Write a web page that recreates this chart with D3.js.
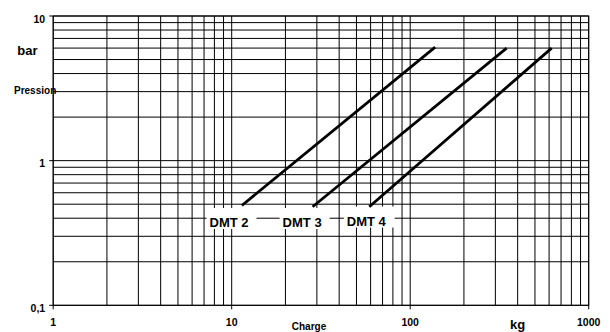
<!DOCTYPE html>
<html>
<head>
<meta charset="utf-8">
<script src="https://cdn.jsdelivr.net/npm/d3@7"></script>
<style>
  body { margin: 0; background: #fff; }
  svg { display: block; }
  svg text { font-family: "Liberation Sans", Arial, sans-serif; font-weight: bold; }
</style>
</head>
<body>
<div id="chart"></div>
<script>
// Axis ticks (log scales)
const xTicks = [1, 10, 100, 1000];
const xTickLabels = ["1", "10", "100", "1000"];
const yTicks = [0.1, 1, 10];
const yTickLabels = ["0,1", "1", "10"];

// Curves: [start, end] (charge kg, pression bar)
const seriesNames = ["DMT 2", "DMT 3", "DMT 4"];
const dmt2Charge = [11.4, 138];
const dmt2Pression = [0.49, 6.1];
const dmt3Charge = [28.4, 347];
const dmt3Pression = [0.48, 6.0];
const dmt4Charge = [59, 620];
const dmt4Pression = [0.48, 6.0];

// Label anchors (data units, text centre / baseline)
const labelCharge = [9.66, 24.8, 56.8];
const labelPression = [0.348, 0.348, 0.356];

const width = 610, height = 332;
const plotLeft = 53.2, plotRight = 588.7, plotTop = 16, plotBottom = 305.3;

const svg = d3.select("#chart").append("svg")
    .attr("width", width)
    .attr("height", height);

const x = d3.scaleLog().domain([1, 1000]).range([plotLeft, plotRight]);
const y = d3.scaleLog().domain([0.1, 10]).range([plotBottom, plotTop]);

// Grid
const grid = svg.append("g").attr("stroke", "#000").attr("stroke-width", 1);
grid.selectAll(".vx")
    .data(x.ticks())
    .join("line")
    .attr("class", "vx")
    .attr("x1", d => x(d)).attr("x2", d => x(d))
    .attr("y1", plotTop).attr("y2", plotBottom);
grid.selectAll(".hy")
    .data(y.ticks())
    .join("line")
    .attr("class", "hy")
    .attr("x1", plotLeft).attr("x2", plotRight)
    .attr("y1", d => y(d)).attr("y2", d => y(d));

// Frame
svg.append("rect")
    .attr("x", plotLeft).attr("y", plotTop)
    .attr("width", plotRight - plotLeft).attr("height", plotBottom - plotTop)
    .attr("fill", "none").attr("stroke", "#000");

// Axis ticks + labels
svg.append("g")
    .attr("transform", `translate(0,${plotBottom})`)
    .call(d3.axisBottom(x).tickValues(xTicks).tickSize(4).tickPadding(9)
        .tickFormat((d, i) => xTickLabels[i]).offset(0))
    .call(g => g.select(".domain").remove())
    .call(g => g.selectAll("text").attr("font-size", 10.5).attr("fill", "#000"));

svg.append("g")
    .attr("transform", `translate(${plotLeft},0)`)
    .call(d3.axisLeft(y).tickValues(yTicks).tickSize(4).tickPadding(4)
        .tickFormat((d, i) => yTickLabels[i]).offset(0))
    .call(g => g.select(".domain").remove())
    .call(g => g.selectAll("text").attr("font-size", 10.5)
        .attr("fill", "#000").attr("dy", "0.62em"));

// Axis titles
svg.append("text").attr("x", 17.3).attr("y", 55).attr("font-size", 13).text("bar");
svg.append("text").attr("x", 14).attr("y", 94).attr("font-size", 10).text("Pression");
svg.append("text").attr("x", 309).attr("y", 330).attr("font-size", 10)
    .attr("text-anchor", "middle").text("Charge");
svg.append("text").attr("x", 517.5).attr("y", 329).attr("font-size", 13)
    .attr("text-anchor", "middle").text("kg");

// Labels with white boxes cutting the grid
const labels = svg.append("g");
seriesNames.forEach((name, i) => {
    const g = labels.append("g");
    const t = g.append("text")
        .attr("x", x(labelCharge[i]))
        .attr("y", y(labelPression[i]))
        .attr("text-anchor", "middle")
        .attr("font-size", 13)
        .text(name);
    const bb = t.node().getBBox();
    g.insert("rect", "text")
        .attr("x", bb.x - 3).attr("y", bb.y - 7)
        .attr("width", bb.width + 11).attr("height", bb.height + 6)
        .attr("fill", "#fff");
});

// Curves
const curves = [
    dmt2Charge.map((c, i) => [c, dmt2Pression[i]]),
    dmt3Charge.map((c, i) => [c, dmt3Pression[i]]),
    dmt4Charge.map((c, i) => [c, dmt4Pression[i]])
];
const line = d3.line().x(d => x(d[0])).y(d => y(d[1]));
svg.append("g").selectAll("path")
    .data(curves)
    .join("path")
    .attr("d", line)
    .attr("fill", "none")
    .attr("stroke", "#000")
    .attr("stroke-width", 2.8);
</script>
</body>
</html>
